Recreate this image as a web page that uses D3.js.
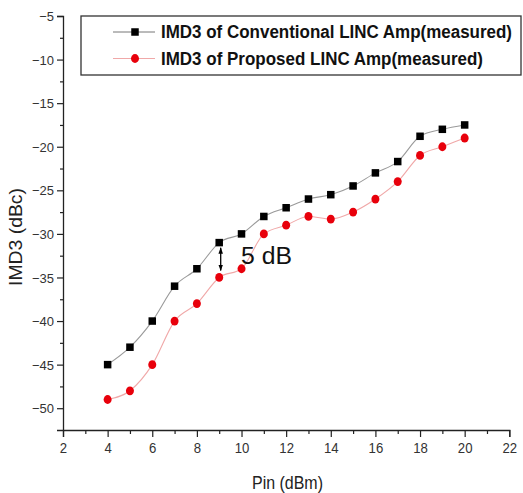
<!DOCTYPE html>
<html>
<head>
<meta charset="utf-8">
<script src="https://cdn.jsdelivr.net/npm/d3@7"></script>
<style>
  body { margin: 0; background: #fff; }
  svg { font-family: "Liberation Sans", Arial, sans-serif; }
</style>
</head>
<body>
<svg id="chart" width="523" height="493"></svg>
<script>
// data
var pin = [4, 5, 6, 7, 8, 9, 10, 11, 12, 13, 14, 15, 16, 17, 18, 19, 20];
var conventional = [-45, -43, -40, -36, -34, -31, -30, -28, -27, -26, -25.5, -24.5, -23, -21.7, -18.8, -18, -17.5];
var proposed = [-49, -48, -45, -40, -38, -35, -34, -30, -29, -28, -28.3, -27.5, -26, -24, -21, -20, -19];
var xTicks = [2, 4, 6, 8, 10, 12, 14, 16, 18, 20, 22];
var yTicks = [-5, -10, -15, -20, -25, -30, -35, -40, -45, -50];
var legendLabels = ["IMD3 of Conventional LINC Amp(measured)", "IMD3 of Proposed LINC Amp(measured)"];
var legendWidths = [351, 322];

var svg = d3.select("#chart")
  , x = d3.scaleLinear().domain([2, 22]).range([63, 509.3])
  , y = d3.scaleLinear().domain([-52.5, -5]).range([430, 16])
;

// axes (major + minor ticks)
svg.append("g")
    .attr("class", "xaxis")
    .attr("transform", "translate(0," + y(-52.5) + ")")
    .call(d3.axisBottom(x).tickValues(xTicks).tickSize(7).tickPadding(5).tickFormat(d3.format("d")));
svg.append("g")
    .attr("transform", "translate(0," + y(-52.5) + ")")
    .call(d3.axisBottom(x).tickValues(d3.range(3, 22, 2)).tickSize(4).tickFormat(""))
    .select(".domain").remove();

svg.append("g")
    .attr("class", "yaxis")
    .attr("transform", "translate(" + x(2) + ",0)")
    .call(d3.axisLeft(y).tickValues(yTicks).tickSize(6).tickPadding(3));
svg.append("g")
    .attr("transform", "translate(" + x(2) + ",0)")
    .call(d3.axisLeft(y).tickValues(d3.range(-7.5, -50, -5)).tickSize(3).tickFormat(""))
    .select(".domain").remove();

svg.selectAll(".domain").attr("stroke", "#222").attr("stroke-width", 1.3);
svg.selectAll(".tick line").attr("stroke", "#222").attr("stroke-width", 1.2);
svg.selectAll(".tick text").attr("fill", "#333")
    .attr("font-family", "Liberation Sans, Arial, sans-serif");
svg.selectAll(".yaxis .tick text").attr("font-size", 13).attr("dy", "0.35em");
svg.selectAll(".xaxis .tick text").attr("font-size", 15.5)
    .attr("transform", "scale(0.85,1)");

// axis titles
svg.append("text")
    .attr("transform", "translate(22,237) rotate(-90)")
    .attr("text-anchor", "middle")
    .attr("font-size", 18.5).attr("fill", "#222")
    .attr("textLength", 98).attr("lengthAdjust", "spacingAndGlyphs")
    .text("IMD3 (dBc)");
svg.append("text")
    .attr("x", 252).attr("y", 489)
    .attr("font-size", 18.5).attr("fill", "#222")
    .attr("textLength", 71).attr("lengthAdjust", "spacingAndGlyphs")
    .text("Pin (dBm)");

// series
var line = d3.line().curve(d3.curveMonotoneX)
    .x(function(d) { return x(d[0]); })
    .y(function(d) { return y(d[1]); });

var convData = d3.zip(pin, conventional)
  , propData = d3.zip(pin, proposed);

svg.append("path").datum(convData)
    .attr("d", line).attr("fill", "none")
    .attr("stroke", "#9a9a9a").attr("stroke-width", 1.1);
svg.append("path").datum(propData)
    .attr("d", line).attr("fill", "none")
    .attr("stroke", "#f0a8a8").attr("stroke-width", 1.1);

var ms = 7.5;
svg.append("g").selectAll("rect").data(convData)
  .enter().append("rect")
    .attr("x", function(d) { return x(d[0]) - ms / 2; })
    .attr("y", function(d) { return y(d[1]) - ms / 2; })
    .attr("width", ms).attr("height", ms)
    .attr("fill", "#000");
svg.append("g").selectAll("ellipse").data(propData)
  .enter().append("ellipse")
    .attr("cx", function(d) { return x(d[0]); })
    .attr("cy", function(d) { return y(d[1]); })
    .attr("rx", 4).attr("ry", 4.4)
    .attr("fill", "#e8000b");

// 5 dB annotation
var defs = svg.append("defs");
defs.append("marker")
    .attr("id", "ah").attr("viewBox", "0 0 10 10")
    .attr("refX", 9).attr("refY", 5)
    .attr("markerWidth", 5).attr("markerHeight", 6)
    .attr("orient", "auto-start-reverse")
  .append("path").attr("d", "M0,1.5 L10,5 L0,8.5 Z").attr("fill", "#000");
svg.append("line")
    .attr("x1", x(9) + 1.5).attr("x2", x(9) + 1.5)
    .attr("y1", y(-31.6)).attr("y2", y(-34.2))
    .attr("stroke", "#000").attr("stroke-width", 1.3)
    .attr("marker-start", "url(#ah)").attr("marker-end", "url(#ah)");
svg.append("text")
    .attr("x", 241).attr("y", 264)
    .attr("font-size", 23).attr("fill", "#111")
    .attr("textLength", 51).attr("lengthAdjust", "spacingAndGlyphs")
    .text("5 dB");

// legend
var legend = svg.append("g");
legend.append("rect")
    .attr("x", 81).attr("y", 16).attr("width", 440).attr("height", 59)
    .attr("fill", "#fff").attr("stroke", "#333").attr("stroke-width", 1.3);
var rows = legend.selectAll("g.row").data(legendLabels)
  .enter().append("g")
    .attr("class", "row")
    .attr("transform", function(d, i) { return "translate(0," + (32 + i * 26.5) + ")"; });
rows.append("line")
    .attr("x1", 113).attr("x2", 155)
    .attr("stroke", function(d, i) { return i ? "#f0a8a8" : "#777"; });
rows.filter(function(d, i) { return i === 0; }).append("rect")
    .attr("x", 135 - ms / 2).attr("y", -ms / 2).attr("width", ms).attr("height", ms).attr("fill", "#000");
rows.filter(function(d, i) { return i === 1; }).append("ellipse")
    .attr("cx", 135).attr("rx", 4).attr("ry", 4.4).attr("fill", "#e8000b");
rows.append("text")
    .attr("x", 161).attr("dy", "0.36em")
    .attr("font-size", 17.5).attr("font-weight", "bold").attr("fill", "#111")
    .attr("textLength", function(d, i) { return legendWidths[i]; })
    .attr("lengthAdjust", "spacingAndGlyphs")
    .text(function(d) { return d; });
</script>
</body>
</html>
